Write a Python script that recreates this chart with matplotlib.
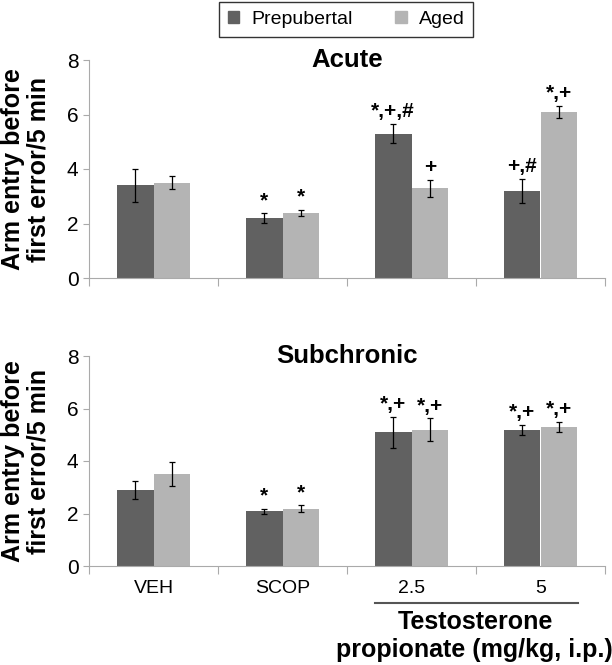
import numpy as np
import matplotlib
matplotlib.use('Agg')
import matplotlib.pyplot as plt
from matplotlib.patches import Patch

plt.rcParams['font.family'] = ['Liberation Sans', 'DejaVu Sans']

groups = ['VEH', 'SCOP', '2.5', '5']
series = ['Prepubertal', 'Aged']
colors = ['#616161', '#b4b4b4']

acute_prep = [3.4, 2.2, 5.3, 3.2]
acute_prep_err = [0.6, 0.17, 0.35, 0.44]
acute_aged = [3.5, 2.4, 3.3, 6.1]
acute_aged_err = [0.23, 0.11, 0.31, 0.23]
acute_marks_prep = ['', '*', '*,+,#', '+,#']
acute_marks_aged = ['', '*', '+', '*,+']

sub_prep = [2.88, 2.09, 5.09, 5.19]
sub_prep_err = [0.34, 0.1, 0.6, 0.2]
sub_aged = [3.5, 2.18, 5.19, 5.29]
sub_aged_err = [0.46, 0.14, 0.43, 0.2]
sub_marks_prep = ['', '*', '*,+', '*,+']
sub_marks_aged = ['', '*', '*,+', '*,+']

W, H = 612, 665
fig = plt.figure(figsize=(W / 100, H / 100), dpi=100)


def draw_panel(ax, title, prep, prep_err, aged, aged_err, marks_prep, marks_aged):
    x = np.arange(len(groups))
    bw = 0.283
    vals = [(prep, prep_err, marks_prep), (aged, aged_err, marks_aged)]
    for i, (v, e, m) in enumerate(vals):
        xs = x + (i - 0.5) * bw
        ax.bar(xs, v, bw, color=colors[i], zorder=2)
        ax.errorbar(xs, v, yerr=e, fmt='none', ecolor='black', elinewidth=0.9,
                    capsize=2.5, capthick=0.9, zorder=3)
        for xi, vi, ei, mi in zip(xs, v, e, m):
            if mi:
                ax.text(xi, vi + ei + 0.1, mi, ha='center', va='bottom',
                        fontsize=15, fontweight='bold')
    ax.set_xlim(-0.5, len(groups) - 0.5)
    ax.set_ylim(0, 8)
    ax.set_yticks([0, 2, 4, 6, 8])
    ax.tick_params(axis='y', labelsize=15, color='#aaaaaa', length=4, width=0.8)
    ax.set_xticks(np.arange(len(groups) + 1) - 0.5)
    ax.set_xticklabels([])
    ax.tick_params(axis='x', color='#aaaaaa', length=6, width=0.8, direction='out')
    for s in ['top', 'right']:
        ax.spines[s].set_visible(False)
    for s in ['left', 'bottom']:
        ax.spines[s].set_color('#aaaaaa')
        ax.spines[s].set_linewidth(0.8)
    ax.text(0.5, 1.0, title, transform=ax.transAxes, ha='center', va='center',
            fontsize=18.5, fontweight='bold')
    ax.set_ylabel('Arm entry before\nfirst error/5 min', fontsize=18,
                  fontweight='bold', linespacing=1.12)
    ax.yaxis.set_label_coords(-0.074, 0.5)


ax1 = fig.add_axes([89 / W, 1 - 278 / H, 516 / W, 218 / H])
draw_panel(ax1, 'Acute', acute_prep, acute_prep_err, acute_aged, acute_aged_err,
           acute_marks_prep, acute_marks_aged)

ax2 = fig.add_axes([89 / W, 1 - 566 / H, 516 / W, 210 / H])
draw_panel(ax2, 'Subchronic', sub_prep, sub_prep_err, sub_aged, sub_aged_err,
           sub_marks_prep, sub_marks_aged)

# group labels under the bottom panel
for i, g in enumerate(groups):
    ax2.text(i, -0.55, g, ha='center', va='top', fontsize=14)

# bracket for the testosterone doses
ax2.plot([1.72, 3.29], [-1.41, -1.41], color='#555555', lw=1.5, clip_on=False)
fig.text(475 / W, 1 - 622 / H, 'Testosterone', ha='center', va='center',
         fontsize=18, fontweight='bold')
fig.text(474 / W, 1 - 650 / H, 'propionate (mg/kg, i.p.)', ha='center',
         va='center', fontsize=18, fontweight='bold')

handles = [Patch(color=c, label=s) for c, s in zip(colors, series)]
fig.legend(handles=handles, loc='upper center', bbox_to_anchor=(346 / W, 1 - 2 / H),
           ncol=2, fontsize=14, frameon=True, fancybox=False, edgecolor='black',
           handlelength=0.6, handleheight=0.6, columnspacing=2.2,
           borderpad=0.45, handletextpad=0.6, borderaxespad=0)

fig.savefig('out.png', dpi=100)
